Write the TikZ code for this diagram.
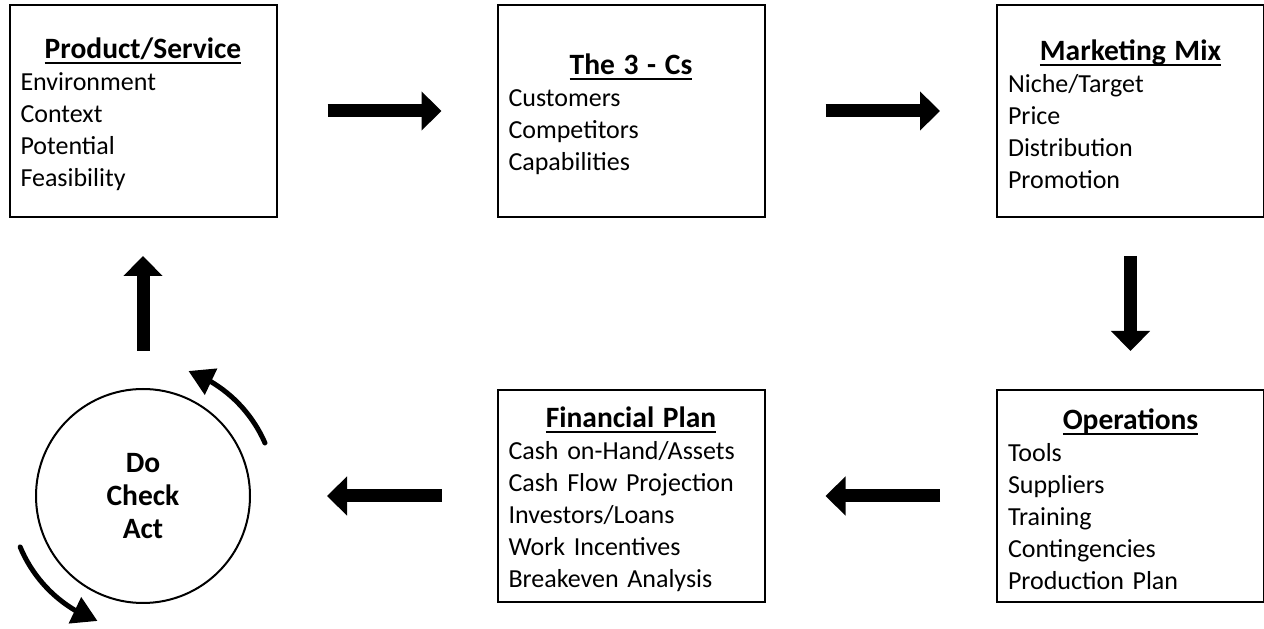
\documentclass[tikz,border=0pt]{standalone}
\usepackage{fontspec}
\setmainfont{Carlito}
\usetikzlibrary{arrows.meta,bending}

\newcommand{\boxtitle}[1]{\hfill{\fontsize{29.5}{32}\selectfont\bfseries\rule{0pt}{28pt}\setbox0\hbox{#1}\rlap{\copy0}\rule[-5pt]{\wd0}{2pt}}\hfill\null\\}

\tikzset{
  planbox/.style={draw, line width=2pt, rectangle, minimum width=267pt, minimum height=212pt,
    text width=245pt, inner xsep=11pt, inner ysep=2pt, align=left, font=\fontsize{26}{32}\selectfont},
  cyclenode/.style={draw, circle, line width=2pt, minimum size=214pt, align=center,
    font=\fontsize{29.5}{33}\selectfont\bfseries},
  bigarrow/.style={line width=13pt, -{Triangle[length=20pt,width=38pt]}},
  cyclearrow/.style={line width=5pt, line cap=round, -{Triangle[length=25pt,width=28pt]}}
}

\begin{document}
\begin{tikzpicture}[x=1pt,y=1pt]
\useasboundingbox (0,0) rectangle (1264,629);

\node[planbox] (prod) at (143,518) {\boxtitle{Product/Service}Environment\\Context\\Potential\\Feasibility};
\node[planbox] (three) at (631,518) {\boxtitle{The 3 - Cs}Customers\\Competitors\\Capabilities};
\node[planbox] (mix) at (1130.5,518) {\boxtitle{Marketing Mix}Niche/Target\\Price\\Distribution\\Promotion};
\node[planbox] (ops) at (1130.5,133) {\boxtitle{Operations}Tools\\Suppliers\\Training\\Contingencies\\Production Plan};
\node[planbox] (fin) at (631,133) {\boxtitle{Financial Plan}Cash on-Hand/Assets\\Cash Flow Projection\\Investors/Loans\\Work Incentives\\Breakeven Analysis};
\node[cyclenode] (cyc) at (143,133) {Do\\Check\\Act};

\draw[bigarrow, shorten <=50pt, shorten >=55pt] (prod) -- (three);
\draw[bigarrow, shorten <=60pt, shorten >=56pt] (three) -- (mix);
\draw[bigarrow, shorten <=38pt, shorten >=38pt] (mix) -- (ops);
\draw[bigarrow, shorten <=56pt, shorten >=60pt] (ops) -- (fin);
\draw[bigarrow, shorten <=55pt, shorten >=76pt] (fin) -- (cyc);
\draw[bigarrow, shorten <=37pt, shorten >=38pt] (cyc) -- (prod);

% arrows round the cycle
\draw[cyclearrow] ([shift={(23.5:133pt)}]cyc.center) arc[start angle=23.5, end angle=70, radius=133pt];
\draw[cyclearrow] ([shift={(202.5:133pt)}]cyc.center) arc[start angle=202.5, end angle=250, radius=133pt];
\end{tikzpicture}
\end{document}
